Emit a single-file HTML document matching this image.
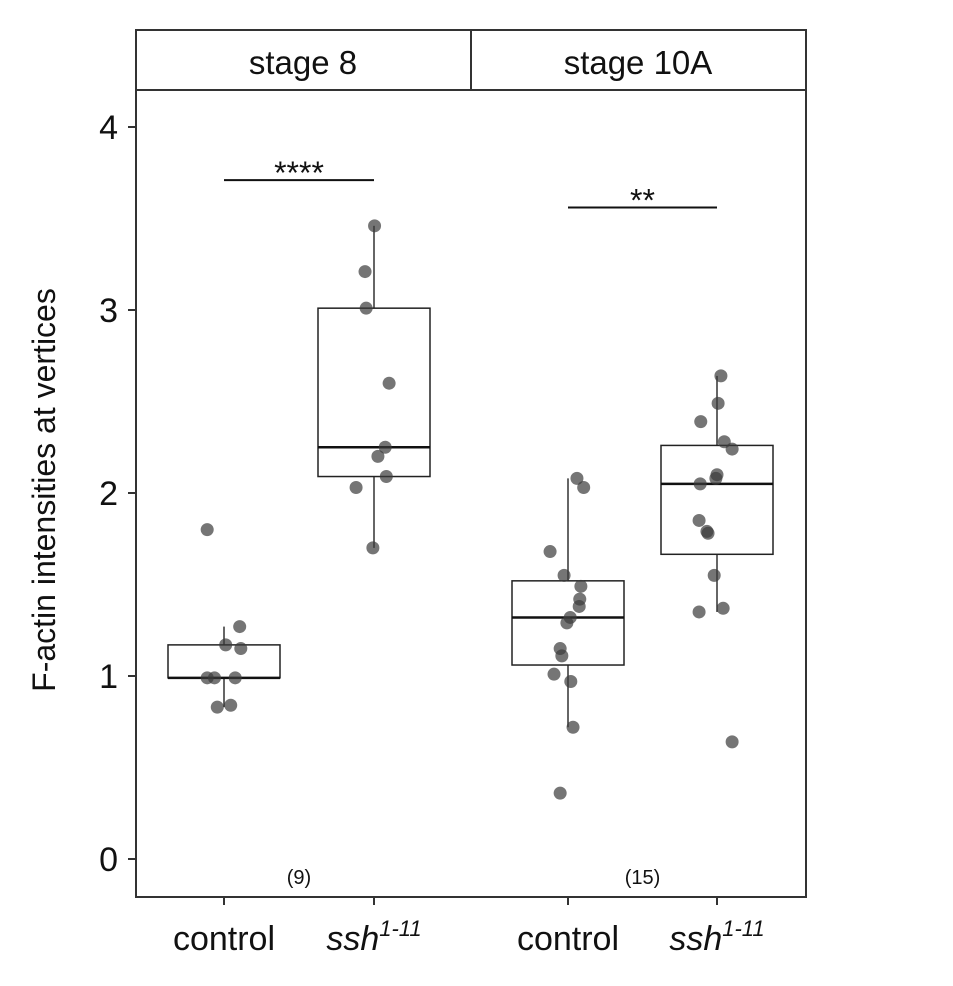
<!DOCTYPE html>
<html><head><meta charset="utf-8"><style>
body{margin:0;background:#fff}
svg{font-family:"Liberation Sans",Arial,sans-serif}
</style></head><body>
<svg id="c" width="953" height="981"></svg>
<script>
const panels=["stage 8","stage 10A"];
const groups=["control","ssh"];
const ctrl8=[1.80,1.27,1.17,1.15,0.99,0.99,0.99,0.83,0.84];
const ssh8=[3.46,3.21,3.01,2.60,2.25,2.20,2.09,2.03,1.70];
const ctrl10=[2.08,2.03,1.68,1.55,1.49,1.42,1.38,1.32,1.29,1.15,1.11,1.01,0.97,0.72,0.36];
const ssh10=[2.64,2.49,2.39,2.28,2.24,2.10,2.08,2.05,1.85,1.79,1.78,1.55,1.35,1.37,0.64];
const jit8c=[-0.3,0.28,0.03,0.3,-0.3,-0.17,0.2,-0.12,0.12];
const jit8s=[0.01,-0.16,-0.14,0.27,0.2,0.07,0.22,-0.32,-0.02];
const jit10c=[0.16,0.28,-0.32,-0.07,0.23,0.21,0.2,0.04,-0.02,-0.14,-0.11,-0.25,0.05,0.09,-0.14];
const jit10s=[0.07,0.02,-0.29,0.13,0.27,0.0,-0.02,-0.3,-0.32,-0.18,-0.16,-0.05,-0.32,0.11,0.27];
const yTicks=[0,1,2,3,4];
const counts=["(9)","(15)"];
const signif=["****","**"];
const sigY=[3.71,3.56];
const series=[[ctrl8,jit8c],[ssh8,jit8s],[ctrl10,jit10c],[ssh10,jit10s]];
const NS="http://www.w3.org/2000/svg",svg=document.getElementById('c');
function mk(t,a,p){const e=document.createElementNS(NS,t);for(const k in a)e.setAttribute(k,a[k]);(p||svg).appendChild(e);return e;}
const L=136,R=806,T=90,B=897,ST=30;
const y=v=>859-v*183;
const xc=[224,374,568,717];
const BW=112;
// strip
const strip=mk('g',{});
mk('rect',{x:L,y:ST,width:R-L,height:T-ST,fill:'#fff',stroke:'#333','stroke-width':2},strip);
mk('line',{x1:471,y1:ST,x2:471,y2:T,stroke:'#333','stroke-width':2},strip);
panels.forEach((p,i)=>{const t=mk('text',{x:i?638:303,y:74,'font-size':33,'text-anchor':'middle',fill:'#111'},strip);t.textContent=p;
});
const frame=mk('rect',{x:L,y:T,width:R-L,height:B-T,fill:'none',stroke:'#333','stroke-width':2});

// y axis
yTicks.forEach(v=>{mk('line',{x1:128,x2:L,y1:y(v),y2:y(v),stroke:'#333','stroke-width':2});
const t=mk('text',{x:118,y:y(v)+12,'font-size':34,'text-anchor':'end',fill:'#111'});t.textContent=v;
});
const yt=mk('text',{x:0,y:0,'font-size':32,'text-anchor':'middle',fill:'#111',transform:'translate(55,490) rotate(-90)'});
yt.textContent='F-actin intensities at vertices';
function q(s,p){const h=(s.length-1)*p,l=Math.floor(h);return s[l]+(h-l)*((s[l+1]??s[l])-s[l]);}
series.forEach(([d,j],i)=>{
const s=[...d].sort((a,b)=>a-b),q1=q(s,.25),md=q(s,.5),q3=q(s,.75),iqr=q3-q1;
const lo=Math.min(...s.filter(v=>v>=q1-1.5*iqr)),hi=Math.max(...s.filter(v=>v<=q3+1.5*iqr));
const g=mk('g',{});
const x=xc[i];
mk('line',{x1:x,x2:x,y1:y(hi),y2:y(q3),stroke:'#333','stroke-width':1.5},g);
mk('line',{x1:x,x2:x,y1:y(q1),y2:y(lo),stroke:'#333','stroke-width':1.5},g);
mk('rect',{x:x-BW/2,y:y(q3),width:BW,height:y(q1)-y(q3),fill:'none',stroke:'#222','stroke-width':1.5},g);
mk('line',{x1:x-BW/2,x2:x+BW/2,y1:y(md),y2:y(md),stroke:'#111','stroke-width':2.5},g);
d.forEach((v,k)=>{const c=mk('circle',{cx:x+j[k]*BW/2,cy:y(v),r:6.5,fill:'#3a3a3a','fill-opacity':0.7},g);
});
mk('line',{x1:x,x2:x,y1:B,y2:B+8,stroke:'#333','stroke-width':2});
const t=mk('text',{x:x,y:950,'font-size':34,'text-anchor':'middle',fill:'#111'});

if(i%2==0)t.textContent='control';else t.innerHTML='<tspan font-style="italic">ssh</tspan><tspan font-style="italic" font-size="22" dy="-14">1-11</tspan>';
});
[0,1].forEach(p=>{const a=xc[p*2],b=xc[p*2+1];
const l=mk('line',{x1:a,x2:b,y1:y(sigY[p]),y2:y(sigY[p]),stroke:'#111','stroke-width':2});

const t=mk('text',{x:(a+b)/2,y:y(sigY[p])+4,'font-size':32,'text-anchor':'middle',fill:'#111'});t.textContent=signif[p];

const n=mk('text',{x:(a+b)/2,y:884,'font-size':20,'text-anchor':'middle',fill:'#111'});n.textContent=counts[p];
});
</script>
</body></html>
